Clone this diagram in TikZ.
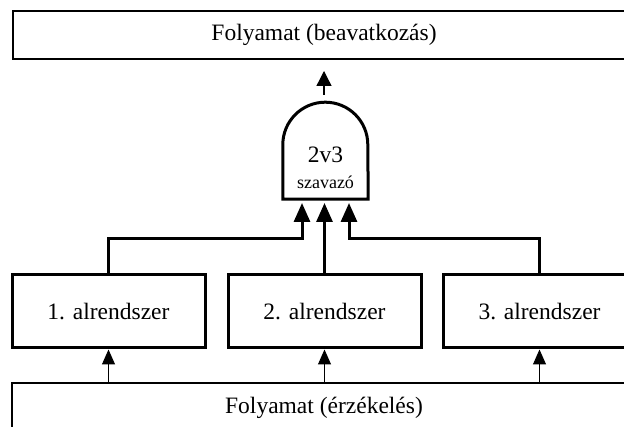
\documentclass[tikz,border=0pt]{standalone}
\usepackage{fontspec}
\setmainfont{Liberation Serif}
\usetikzlibrary{arrows.meta}
\begin{document}
\begin{tikzpicture}[x=1pt,y=1pt,
  procbox/.style={draw, line width=1.3pt, minimum width=622pt, minimum height=48pt,
    inner sep=0pt, font=\fontsize{23.5}{28}\selectfont},
  subbox/.style={draw, line width=3pt, minimum width=193pt, minimum height=73pt,
    inner sep=0pt, font=\fontsize{23.5}{28}\selectfont},
  bus/.style={line width=3pt, -{Triangle[width=16pt,length=19pt]}},
  feed/.style={line width=1pt, -{Triangle[width=13pt,length=15pt]}},
  outarrow/.style={line width=1.3pt, -{Triangle[width=15pt,length=15pt]}}]
\useasboundingbox (0,0) rectangle (624,427);

% process boxes (both run past the right edge)
\node[procbox] (act) at (324,392) {Folyamat (beavatkozás)};
\node[procbox, minimum width=624pt, minimum height=50pt] (sense) at (324,19) {Folyamat (érzékelés)};

% subsystems
\node[subbox] (s1) at (108.5,115.5) {1. alrendszer};
\node[subbox] (s2) at (324.5,115.5) {2. alrendszer};
\node[subbox] (s3) at (539.5,115.5) {3. alrendszer};

% 2-out-of-3 voter
\node[minimum width=85pt, minimum height=97pt, inner sep=0pt] (gate) at (325.5,276.5) {};
\draw[line width=3pt, line join=miter] (gate.south west) -- ++(0,54.5)
  arc[start angle=180, end angle=0, radius=42.5] -- (gate.south east) -- cycle;
\node[font=\fontsize{23.5}{28}\selectfont] (glabel) at (325.5,272) {2v3};
\node[font=\fontsize{18}{22}\selectfont] (gsub) at (325.5,245) {szavazó};

% voter inputs and output
\coordinate (in1) at (302,224);
\coordinate (in2) at (324.5,224);
\coordinate (in3) at (349,224);
\coordinate (outfrom) at (324,332);
\coordinate (outto) at (324,356);

\draw[bus] (s1.north) |- (302,188) -- (in1);
\draw[bus] (s2.north) -- (in2);
\draw[bus] (s3.north) |- (349,188) -- (in3);
\draw[outarrow] (outfrom) -- (outto);

% sensing feeds
\draw[feed] (s1.south |- sense.north) -- (s1.south);
\draw[feed] (s2.south |- sense.north) -- (s2.south);
\draw[feed] (s3.south |- sense.north) -- (s3.south);
\end{tikzpicture}
\end{document}
